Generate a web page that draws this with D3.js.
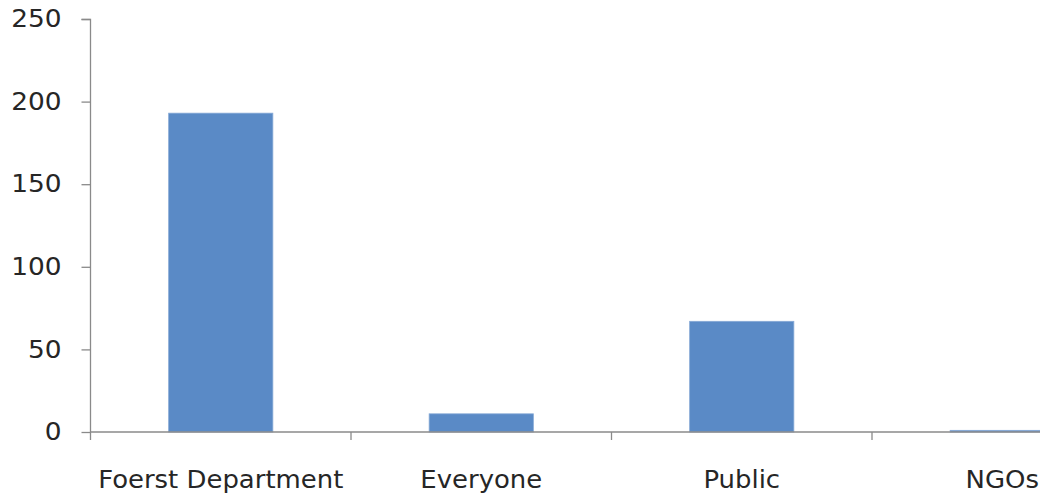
<!DOCTYPE html>
<html>
<head>
<meta charset="utf-8">
<script src="https://cdn.jsdelivr.net/npm/d3@7"></script>
<style>
  html, body { margin: 0; padding: 0; background: #fff; overflow: hidden; }
  text { font-family: "DejaVu Sans", sans-serif; fill: #262626; }
</style>
</head>
<body>
<div id="chart"></div>
<script>
// Data
const categories = ["Foerst Department", "Everyone", "Public", "NGOs"];
const values = [193, 11, 67, 1];
const yTicks = [0, 50, 100, 150, 200, 250];

// Dimensions
const margin = { top: 19, left: 90.5 };
const W = 1040, H = 497;
const plotH = 413;
const step = 260.5;
const axisColor = "#8a8a8a";

const svg = d3.select("#chart")
    .append("svg")
    .attr("width", W)
    .attr("height", H);

const g = svg.append("g")
    .attr("transform", `translate(${margin.left},${margin.top})`);

// Scales
const x = d3.scaleBand()
    .domain(categories)
    .range([0, step * categories.length])
    .padding(0);

const xBar = d3.scaleBand()
    .domain(categories)
    .range([0, step * categories.length])
    .paddingInner(0.6)
    .paddingOuter(0.3);

const y = d3.scaleLinear()
    .domain([0, 250])
    .range([plotH, 0]);

// Bars
g.selectAll(".bar")
    .data(categories)
    .enter().append("rect")
    .attr("class", "bar")
    .attr("x", d => xBar(d))
    .attr("width", xBar.bandwidth())
    .attr("y", (d, i) => y(values[i]))
    .attr("height", (d, i) => plotH - y(values[i]))
    .style("fill", "#5a8ac6")
    .style("stroke", "#86a9d6")
    .style("stroke-width", 0.8);

// Y axis
const yAxis = g.append("g")
    .call(d3.axisLeft(y).tickValues(yTicks).tickSize(9).tickPadding(20));
yAxis.select(".domain").attr("d", `M-9,0.5H0V${plotH + 8}`);
yAxis.selectAll("line").attr("stroke", axisColor).attr("stroke-width", 1.3);
yAxis.select(".domain").attr("stroke", axisColor).attr("stroke-width", 1.3);
yAxis.selectAll("text")
    .style("font-size", "24px")
    .attr("transform", "scale(1.1,1)")
    .attr("x", -29 / 1.1);

// X axis: ticks between categories
const xAxis = g.append("g")
    .attr("transform", `translate(0,${plotH})`);
xAxis.append("line")
    .attr("x1", 0).attr("x2", x.range()[1])
    .attr("stroke", axisColor)
    .attr("stroke-width", 1.3);
xAxis.selectAll(".xtick")
    .data(categories.slice(1))
    .enter().append("line")
    .attr("class", "xtick")
    .attr("x1", d => x(d)).attr("x2", d => x(d))
    .attr("y1", 0).attr("y2", 8)
    .attr("stroke", axisColor)
    .attr("stroke-width", 1.3);
xAxis.selectAll(".xlabel")
    .data(categories)
    .enter().append("text")
    .attr("class", "xlabel")
    .attr("transform", d => `translate(${x(d) + x.bandwidth() / 2},56) scale(1.08,1)`)
    .attr("text-anchor", "middle")
    .style("font-size", "24px")
    .text(d => d);
</script>
</body>
</html>
